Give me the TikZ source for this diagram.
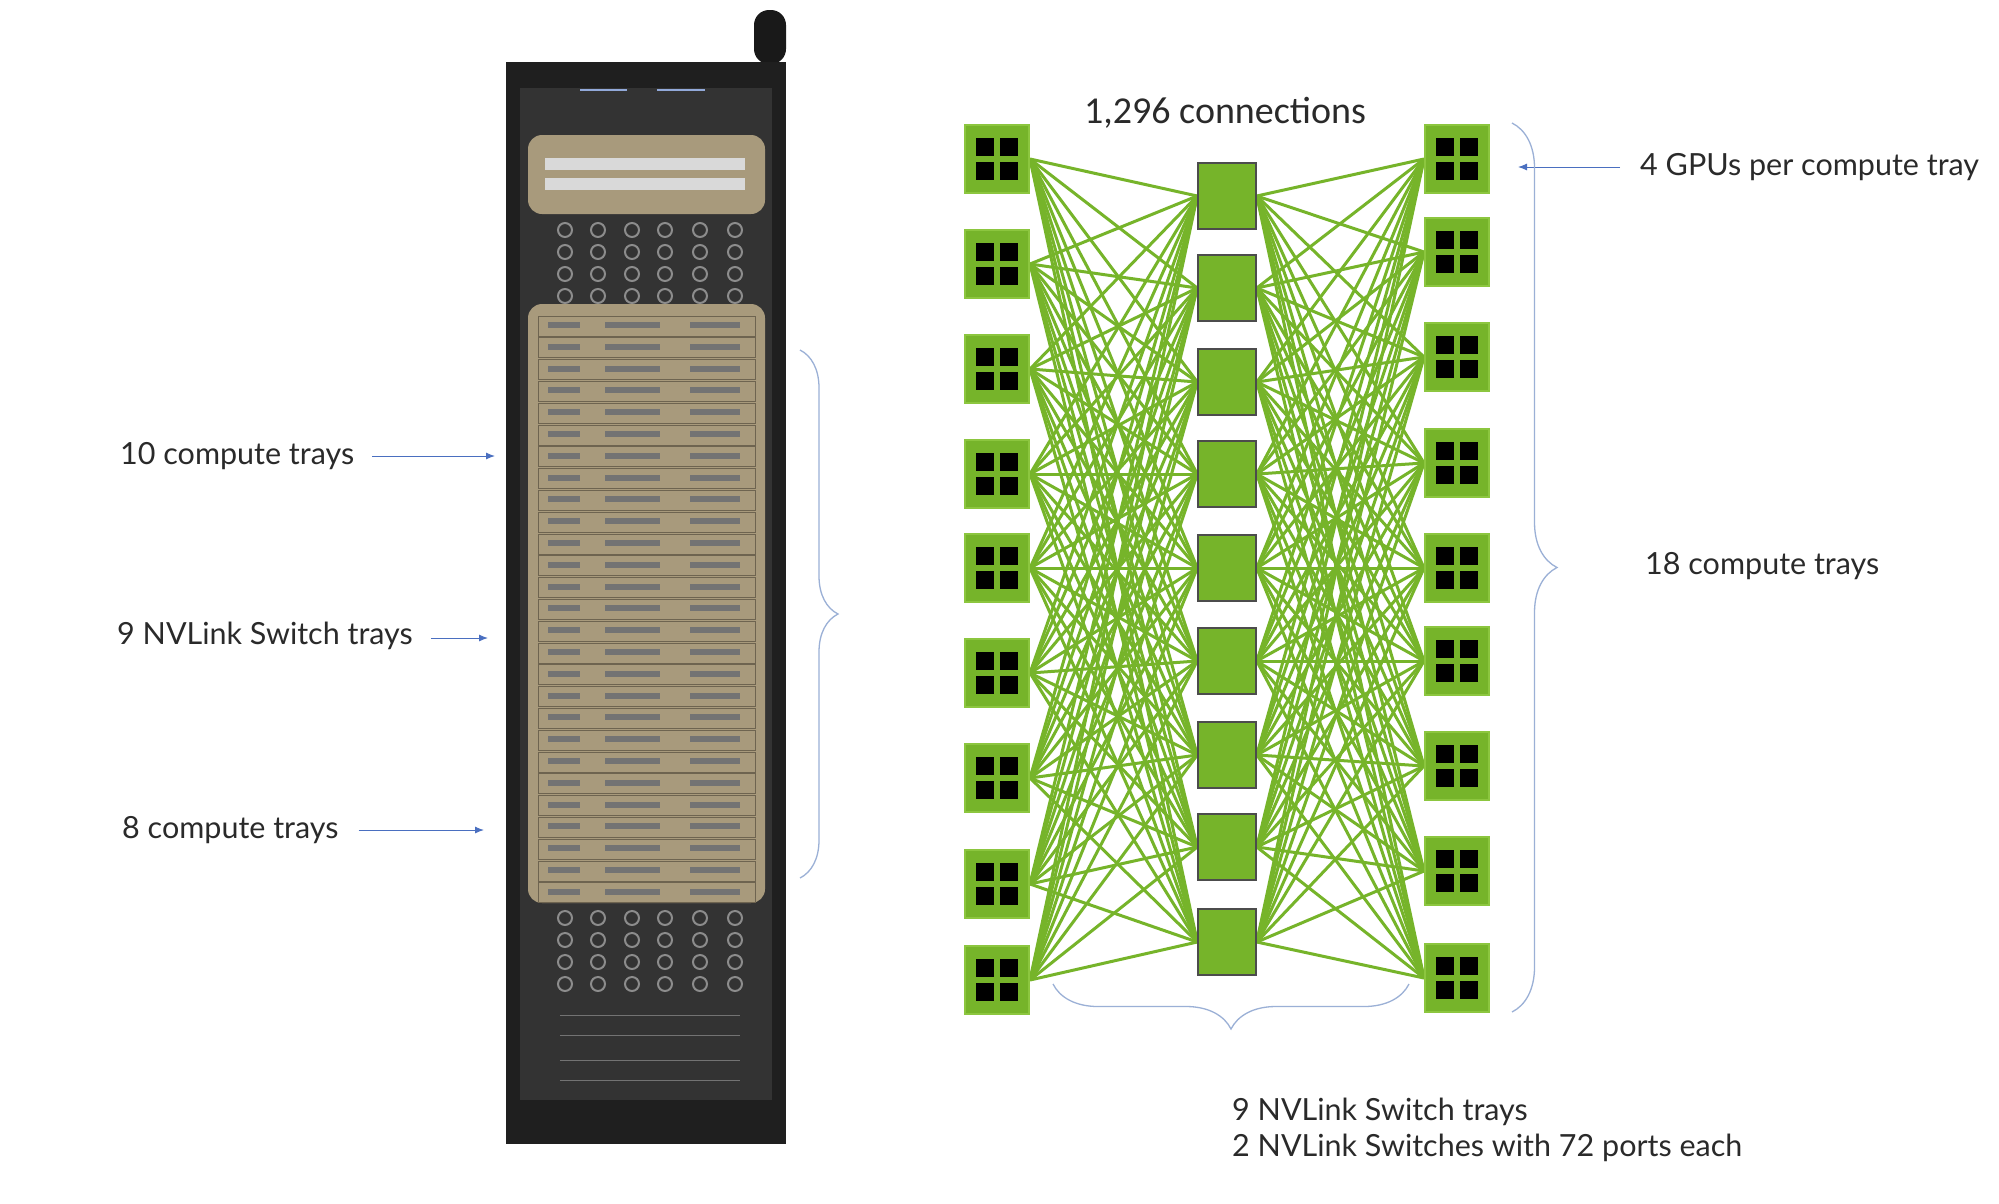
\documentclass[tikz,border=0pt]{standalone}
\usepackage{fontspec}
\setmainfont{Lato}
\newfontfamily\titlefont{Carlito}
\usetikzlibrary{decorations.pathreplacing,arrows.meta,calc}
\definecolor{nvg}{HTML}{76B42A}
\definecolor{nvl}{HTML}{8CC63F}
\definecolor{brc}{HTML}{9BB0D6}
\definecolor{arr}{HTML}{4A6FC0}
\definecolor{gold}{HTML}{A89A7C}
\definecolor{goldd}{HTML}{6E6450}
\definecolor{txt}{HTML}{2A2A2A}
\tikzset{
 tray/.style={draw=nvl,line width=2pt,fill=nvg,minimum width=64pt,minimum height=68pt,inner sep=0pt},
 sw/.style={draw=black!70,line width=1.5pt,fill=nvg,minimum width=58pt,minimum height=66pt,inner sep=0pt},
 link/.style={draw=nvg,line width=3pt},
 lbl/.style={font=\fontsize{30.5}{36}\selectfont,text=txt,anchor=west,inner sep=0pt},
 brace/.style={draw=brc,line width=1.3pt,decorate,decoration={brace,amplitude=#1}},
 pt/.style={-{Latex[length=9pt,width=7pt]},draw=arr,line width=1pt}
}
\newcommand{\gpus}[1]{\foreach \dx in {-12,12}\foreach \dy in {-12,12}
  \fill[black] ($(#1)+(\dx pt-9pt,\dy pt-9pt)$) rectangle ++(18pt,18pt);}
\begin{document}
\begin{tikzpicture}[x=1pt,y=-1pt]
\useasboundingbox (0,0) rectangle (1999,1203);
\fill[white] (0,0) rectangle (1999,1203);
% rack
\fill[black!90,rounded corners=15pt] (754,10) rectangle (786,64);
\fill[black!88] (506,62) rectangle (786,1144);
\fill[black!80] (520,88) rectangle (772,1100);
\foreach \y in {1015,1035,1060,1080}{\draw[black!55,line width=1pt] (560,\y) -- (740,\y);}
\draw[arr!60,line width=1.5pt] (580,90) -- (627,90) (657,90) -- (705,90);
% top switch
\fill[gold,rounded corners=14pt] (528,135) rectangle (765,214);
\fill[black!15] (545,158) rectangle (745,170);
\fill[black!15] (545,178) rectangle (745,190);
% cable areas
\foreach \y in {230,252,274,296}{\foreach \x in {565,598,632,665,700,735}{\draw[black!45,line width=2pt] (\x,\y) circle (7);}}
\foreach \y in {918,940,962,984}{\foreach \x in {565,598,632,665,700,735}{\draw[black!45,line width=2pt] (\x,\y) circle (7);}}
% main block
\fill[gold,rounded corners=14pt] (528,304) rectangle (765,903);
\foreach \i in {0,...,26}{\pgfmathsetmacro\yy{316+\i*21.8}
 \draw[goldd,line width=1pt] (538,\yy) rectangle (755,\yy+20);
 \fill[black!55] (548,\yy+6) rectangle (580,\yy+12);
 \fill[black!55] (605,\yy+6) rectangle (660,\yy+12);
 \fill[black!55] (690,\yy+6) rectangle (740,\yy+12);}
% rack labels
\node[lbl] (l1) at (120,456) {10 compute trays};
\node[lbl] (l2) at (117,636) {9 NVLink Switch trays};
\node[lbl] (l3) at (122,830) {8 compute trays};
\coordinate (a1) at (495,456); \coordinate (a2) at (488,638); \coordinate (a3) at (484,830);
\draw[pt] ($(l1.east)+(18,0)$) -- (a1);
\draw[pt] ($(l2.east)+(18,2)$) -- (a2);
\draw[pt] ($(l3.east)+(20,0)$) -- (a3);
\draw[brace=38pt] (800,350) -- (800,878);
% nodes
\foreach \i/\y in {1/159,2/264,3/369,4/474,5/568,6/673,7/778,8/884,9/980}{\node[tray] (L\i) at (997,\y) {};}
\foreach \i/\y in {1/159,2/252,3/357,4/463,5/568,6/661,7/766,8/871,9/978}{\node[tray] (R\i) at (1457,\y) {};}
\foreach \i/\y in {1/196,2/288,3/382,4/474,5/568,6/661,7/755,8/847,9/942}{\node[sw] (S\i) at (1227,\y) {};}
\foreach \i in {1,...,9}{\foreach \j in {1,...,9}{
 \draw[link] (L\i.east) -- (S\j.west);
 \draw[link] (R\i.west) -- (S\j.east);}}
\foreach \i in {1,...,9}{\node[tray] at (L\i) {}; \gpus{L\i} \node[tray] at (R\i) {}; \gpus{R\i} \node[sw] at (S\i) {};}
% labels right
\node[font=\titlefont\fontsize{38}{44}\selectfont,text=txt] (t) at (1225,113) {1,296 connections};
\node[lbl] (g) at (1640,167) {4 GPUs per compute tray};
\coordinate (ga) at (1518,167);
\draw[pt] ($(g.west)+(-20,0)$) -- (ga);
\draw[brace=45pt] (1512,123) -- (1512,1012);
\node[lbl] (c18) at (1645,566) {18 compute trays};
\draw[brace=45pt] (1409,984) -- (1053,984);
\node[lbl,anchor=north west,align=left] (b) at (1232,1098) {9 NVLink Switch trays\\2 NVLink Switches with 72 ports each};
\end{tikzpicture}
\end{document}
